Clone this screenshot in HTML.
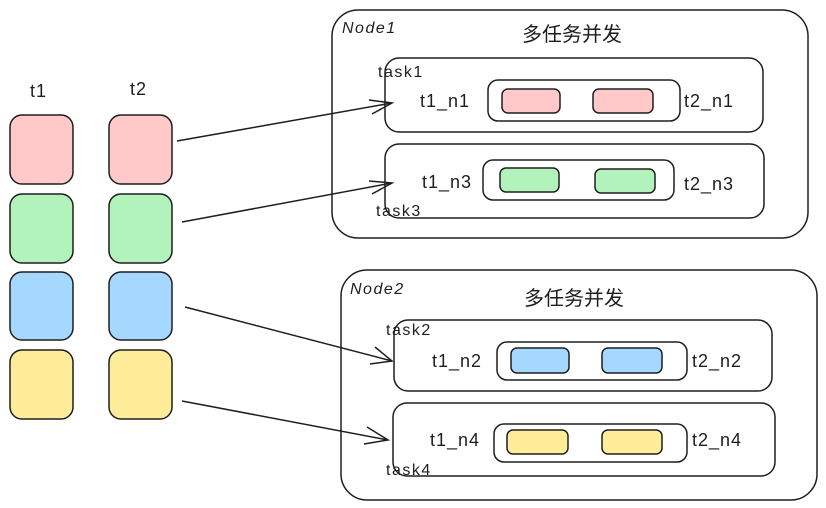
<!DOCTYPE html>
<html><head><meta charset="utf-8"><style>
html,body{margin:0;padding:0;background:#fff;}
svg{display:block;}
text{font-family:"Liberation Sans","Noto Sans CJK SC",sans-serif;fill:#1e1e1e;}
</style></head><body>
<svg width="826" height="508" viewBox="0 0 826 508" xmlns="http://www.w3.org/2000/svg">
<g stroke="#1e1e1e" stroke-width="1.5">
<rect x="10" y="115" width="63" height="69" rx="12" fill="#ffc9c9"/>
<rect x="109" y="115" width="63" height="69" rx="12" fill="#ffc9c9"/>
<rect x="10" y="194" width="63" height="69" rx="12" fill="#b2f2bb"/>
<rect x="109" y="194" width="63" height="69" rx="12" fill="#b2f2bb"/>
<rect x="10" y="272" width="63" height="68" rx="12" fill="#a5d8ff"/>
<rect x="109" y="272" width="63" height="68" rx="12" fill="#a5d8ff"/>
<rect x="10" y="350" width="63" height="69" rx="12" fill="#ffec99"/>
<rect x="109" y="350" width="63" height="69" rx="12" fill="#ffec99"/>
<rect x="332" y="10" width="476" height="228" rx="26" fill="none"/>
<rect x="385" y="58" width="378" height="74" rx="14" fill="none"/>
<rect x="488" y="80" width="192" height="41" rx="10" fill="none"/>
<rect x="502" y="89" width="58" height="24" rx="6" fill="#ffc9c9"/>
<rect x="593" y="89" width="60" height="24" rx="6" fill="#ffc9c9"/>
<rect x="385" y="144" width="379" height="74" rx="14" fill="none"/>
<rect x="483" y="160" width="191" height="40" rx="10" fill="none"/>
<rect x="500" y="168" width="59" height="24" rx="6" fill="#b2f2bb"/>
<rect x="595" y="169" width="60" height="24" rx="6" fill="#b2f2bb"/>
<rect x="341" y="270" width="476" height="230" rx="26" fill="none"/>
<rect x="394" y="320" width="378" height="71" rx="14" fill="none"/>
<rect x="497" y="342" width="190" height="38" rx="10" fill="none"/>
<rect x="511" y="348" width="58" height="25" rx="6" fill="#a5d8ff"/>
<rect x="602" y="348" width="60" height="25" rx="6" fill="#a5d8ff"/>
<rect x="393" y="403" width="382" height="73" rx="14" fill="none"/>
<rect x="494" y="424" width="193" height="38" rx="10" fill="none"/>
<rect x="507" y="430" width="61" height="24" rx="6" fill="#ffec99"/>
<rect x="602" y="430" width="60" height="24" rx="6" fill="#ffec99"/>
<g fill="none">
<line x1="177" y1="141" x2="392" y2="103"/><polyline points="369,100 392,103 372,114"/>
<line x1="182" y1="222" x2="392" y2="183"/><polyline points="369,181 392,183 372,194"/>
<line x1="185" y1="307" x2="392" y2="361"/><polyline points="375,347 392,361 370,364"/>
<line x1="182" y1="401" x2="388" y2="440"/><polyline points="367,427 388,440 364,444"/>
</g>
</g>
<g font-size="18" letter-spacing="1">
<text x="30" y="97">t1</text>
<text x="130" y="95">t2</text>
<text x="342" y="33" font-size="16" font-style="italic" letter-spacing="1.5">Node1</text>
<text x="350" y="294" font-size="16" font-style="italic" letter-spacing="1.5">Node2</text>
<text x="378" y="77" font-size="16" letter-spacing="1.5">task1</text>
<text x="376" y="216" font-size="16" letter-spacing="1.5">task3</text>
<text x="386" y="335" font-size="16" letter-spacing="1.5">task2</text>
<text x="386" y="475" font-size="16" letter-spacing="1.5">task4</text>
<text x="420" y="107">t1_n1</text>
<text x="684" y="107">t2_n1</text>
<text x="422" y="188">t1_n3</text>
<text x="684" y="190">t2_n3</text>
<text x="432" y="367">t1_n2</text>
<text x="692" y="367">t2_n2</text>
<text x="430" y="446">t1_n4</text>
<text x="692" y="446">t2_n4</text>
<text x="522" y="41" font-size="20" letter-spacing="0">多任务并发</text>
<text x="524" y="305" font-size="20" letter-spacing="0">多任务并发</text>
</g>
</svg>
</body></html>
